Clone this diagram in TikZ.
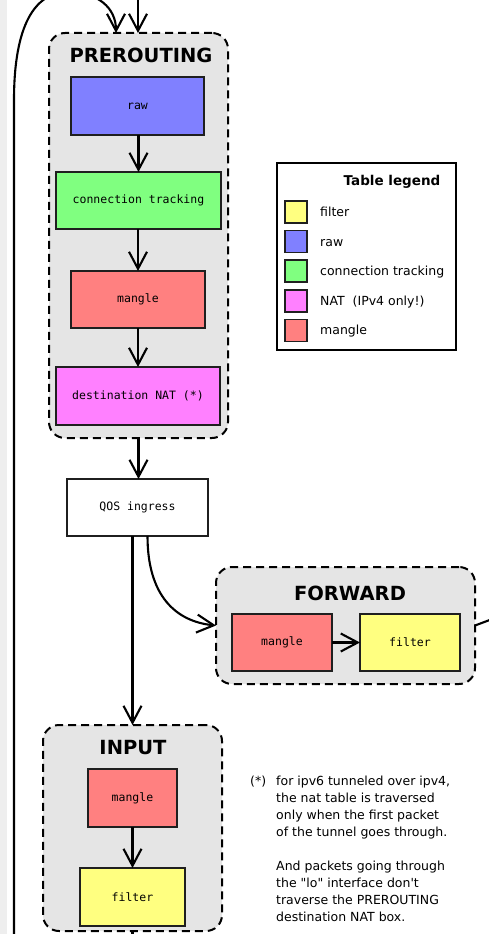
\documentclass[tikz,border=0pt]{standalone}
\usepackage{fontspec}
\setmainfont{DejaVu Sans}
\newfontfamily\monof{DejaVu Sans Mono}
\newfontfamily\plainf{DejaVu Sans}
\usetikzlibrary{arrows.meta}
\definecolor{rawc}{HTML}{8080FF}
\definecolor{ctc}{HTML}{80FF80}
\definecolor{natc}{HTML}{FF80FF}
\definecolor{manc}{HTML}{FF8080}
\definecolor{filc}{HTML}{FFFF80}
\definecolor{grpc}{HTML}{E5E5E5}
\definecolor{edgec}{HTML}{EEEEEE}
\begin{document}
\begin{tikzpicture}[x=1pt,y=-1pt,
  tbl/.style={draw=black!88, line width=1.6pt, inner sep=0pt, outer sep=0pt,
    font=\monof\fontsize{11.5}{13}\selectfont},
  grp/.style={draw=black, dash pattern=on 8pt off 5pt, line width=2pt, fill=grpc,
    rounded corners=16pt, inner sep=0pt, outer sep=0pt},
  ttl/.style={font=\bfseries\fontsize{19.5}{22}\selectfont, inner sep=0pt},
  flow/.style={line width=2.1pt, -{Straight Barb[length=17pt,width=18pt]}},
  plain/.style={line width=2.1pt},
  sq/.style={draw=black!88, line width=1.6pt, minimum width=22pt, minimum height=22pt, inner sep=0pt},
  lgt/.style={font=\fontsize{12.5}{15}\selectfont, inner sep=0pt, anchor=base west},
]
\useasboundingbox (0,0) rectangle (489,934);
\clip (0,0) rectangle (489,934);
\fill[edgec] (0,0) rectangle (7,934);

% groups
\node[grp, minimum width=179pt, minimum height=405pt] (pre) at (138.5,235.5) {};
\node[grp, minimum width=259pt, minimum height=117pt] (fwd) at (345.5,625.5) {};
\node[grp, minimum width=179pt, minimum height=206pt] (inp) at (132.5,828) {};

\node[ttl] (pret) at (141,55) {PREROUTING};
\node[ttl] (fwdt) at (350,593) {FORWARD};
\node[ttl] (inpt) at (133,748) {INPUT};

% tables
\node[tbl, fill=rawc, minimum width=133pt, minimum height=58pt] (raw) at (137.5,106) {raw};
\node[tbl, fill=ctc, minimum width=165pt, minimum height=57pt] (ct) at (138.5,200.5) {connection tracking};
\node[tbl, fill=manc, minimum width=134pt, minimum height=57pt] (pman) at (138,299.5) {mangle};
\node[tbl, fill=natc, minimum width=164pt, minimum height=58pt] (dnat) at (138,396) {destination NAT (*)};
\node[tbl, fill=white, minimum width=141pt, minimum height=57pt] (qos) at (137.5,507.5) {QOS ingress};
\node[tbl, fill=manc, minimum width=100pt, minimum height=57pt] (fman) at (282,642.5) {mangle};
\node[tbl, fill=filc, minimum width=100pt, minimum height=57pt] (ffil) at (410,642.5) {filter};
\node[tbl, fill=manc, minimum width=89pt, minimum height=58pt] (iman) at (132.5,798) {mangle};
\node[tbl, fill=filc, minimum width=105pt, minimum height=58pt] (ifil) at (132.5,897) {filter};

% connectors
\coordinate (topin) at (138,-2);
\coordinate (loopbot) at (14,940);
\coordinate (loopend) at (116,33);
\coordinate (fwdout) at (495,618);
\coordinate (inpout) at (132.5,940);

\draw[flow] (topin) -- (topin |- pre.north);
\draw[flow] (loopbot) -- (14,100) .. controls (14,25) and (35,-8) .. (68,-8) .. controls (98,-8) and (116,8) .. (loopend);
\draw[flow] (raw.south -| ct.north) -- (ct.north);
\draw[flow] (ct.south -| pman.north) -- (pman.north);
\draw[flow] (pman.south -| dnat.north) -- (dnat.north);
\draw[flow] (pre.south) -- (pre.south |- qos.north);
\draw[flow] (qos.south -| inp.north) -- (inp.north);
\draw[flow] ([xshift=10pt]qos.south) .. controls +(0,60) and +(-40,-4) .. (fwd.west);
\draw[flow] (fman.east) -- (ffil.west);
\draw[plain] (fwd.east) -- (fwdout);
\draw[flow] (iman.south) -- (ifil.north);
\draw[plain] (inp.south) -- (inpout);

% legend
\node[draw=black, line width=1.6pt, fill=white, minimum width=179pt, minimum height=187pt, inner sep=0pt] (leg) at (366.5,256.5) {};
\node[font=\bfseries\fontsize{13.5}{15}\selectfont, inner sep=0pt, anchor=base] (legt) at (392,185) {Table legend};
\node[sq, fill=filc] (s1) at (296,212) {};
\node[sq, fill=rawc] (s2) at (296,241.6) {};
\node[sq, fill=ctc] (s3) at (296,271.2) {};
\node[sq, fill=natc] (s4) at (296,300.8) {};
\node[sq, fill=manc] (s5) at (296,330.4) {};
\node[lgt] (l1) at (320,216.5) {filter};
\node[lgt] (l2) at (320,246.1) {raw};
\node[lgt] (l3) at (320,275.7) {connection tracking};
\node[lgt] (l4) at (320,305.3) {NAT\ \ (IPv4 only!)};
\node[lgt] (l5) at (320,334.9) {mangle};

% footnote
\node[lgt] (fnm) at (250,785) {(*)};
\node[inner sep=0pt, anchor=north west, align=left, font=\plainf\fontsize{12.5}{17}\selectfont] (fn) at (276,775.5)
  {for ipv6 tunneled over ipv4,\\the nat table is traversed\\only when the first packet\\of the tunnel goes through.\\[17pt]And packets going through\\the "lo" interface don't\\traverse the PREROUTING\\destination NAT box.};
\end{tikzpicture}
\end{document}
